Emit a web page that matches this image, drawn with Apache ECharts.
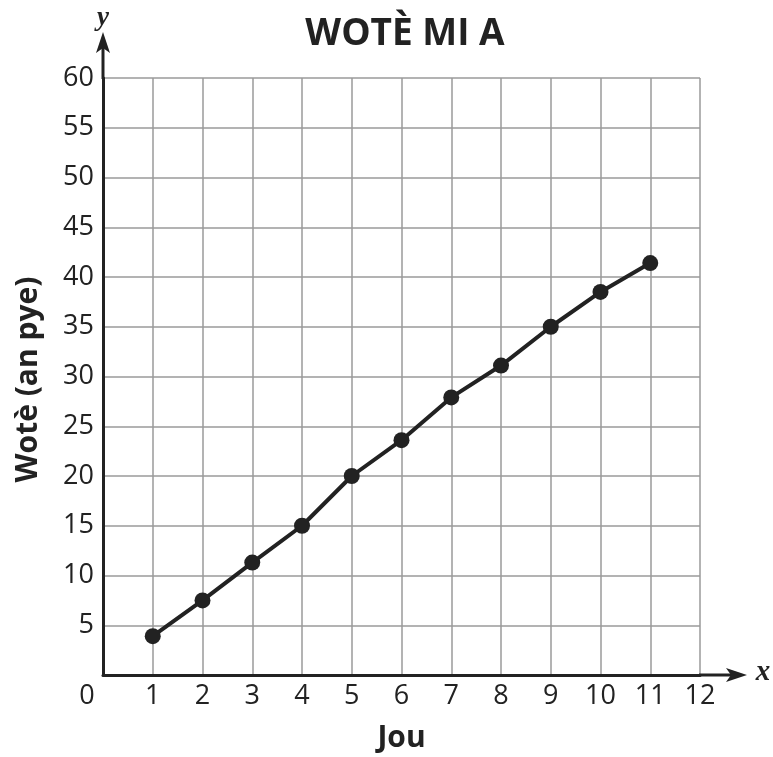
<!DOCTYPE html>
<html>
<head>
<meta charset="utf-8">
<script src="https://cdn.jsdelivr.net/npm/echarts@6/dist/echarts.min.js"></script>
<style>
html,body{margin:0;padding:0;background:#fff;}
#chart{width:773px;height:757px;}
</style>
</head>
<body>
<div id="chart"></div>
<script>
var titleText = 'WOTÈ MI A';
var xName = 'Jou';
var yName = 'Wotè (an pye)';
var days = [1, 2, 3, 4, 5, 6, 7, 8, 9, 10, 11];
var heights = [3.9, 7.5, 11.3, 15, 20, 23.6, 27.9, 31.1, 35, 38.5, 41.4];
var xMax = 12, yMax = 60, yStep = 5;

var FONT = '"Open Sans", "Noto Sans", sans-serif';
var INK = '#222';

var chart = echarts.init(document.getElementById('chart'));
chart.setOption({
  animation: false,
  backgroundColor: '#fff',
  title: {
    text: titleText,
    left: 400,
    top: 11,
    textAlign: 'center',
    textStyle: { fontFamily: FONT, fontWeight: 'bold', fontSize: 37, color: INK }
  },
  grid: { left: 103, right: 73, top: 78, bottom: 82, containLabel: false, outerBoundsMode: 'none' },
  xAxis: {
    type: 'value',
    min: 0, max: xMax, interval: 1,
    axisLine: { show: true, lineStyle: { color: INK, width: 3 } },
    axisTick: { show: false },
    axisLabel: {
      fontFamily: FONT, fontSize: 27, color: INK, margin: 8,
      formatter: function (v) { return v === 0 ? '' : String(v); }
    },
    splitLine: { show: true, lineStyle: { color: '#9a9a9a', width: 1.5 } }
  },
  yAxis: {
    type: 'value',
    min: 0, max: yMax, interval: yStep,
    axisLine: { show: true, lineStyle: { color: INK, width: 3 } },
    axisTick: { show: false },
    axisLabel: {
      fontFamily: FONT, fontSize: 27, color: INK, margin: 9,
      formatter: function (v) { return v === 0 ? '' : String(v); }
    },
    splitLine: { show: true, lineStyle: { color: '#9a9a9a', width: 1.5 } }
  },
  series: [{
    type: 'line',
    data: days.map(function (d, i) { return [d, heights[i]]; }),
    symbol: 'circle',
    symbolSize: 16,
    lineStyle: { color: INK, width: 4 },
    itemStyle: { color: INK },
    z: 5
  }]
});

var o = chart.convertToPixel({ gridIndex: 0 }, [0, 0]);
var t = chart.convertToPixel({ gridIndex: 0 }, [0, yMax]);
var r = chart.convertToPixel({ gridIndex: 0 }, [xMax, 0]);
var yTip = t[1] - 46, xTip = r[0] + 47;
var midX = (o[0] + r[0]) / 2, midY = (o[1] + t[1]) / 2;
chart.setOption({
  graphic: [
    { type: 'line', shape: { x1: o[0], y1: t[1] + 1, x2: o[0], y2: yTip + 8 }, style: { stroke: INK, lineWidth: 3 }, z: 10 },
    { type: 'polygon', shape: { points: [[o[0], yTip], [o[0] - 7, yTip + 21], [o[0], yTip + 16], [o[0] + 7, yTip + 21]] }, style: { fill: INK }, z: 10 },
    { type: 'line', shape: { x1: r[0] - 1, y1: o[1], x2: xTip - 8, y2: o[1] }, style: { stroke: INK, lineWidth: 3 }, z: 10 },
    { type: 'polygon', shape: { points: [[xTip, o[1]], [xTip - 21, o[1] - 7], [xTip - 16, o[1]], [xTip - 21, o[1] + 7]] }, style: { fill: INK }, z: 10 },
    { type: 'text', style: { text: 'y', x: o[0], y: yTip - 14, textAlign: 'center', textVerticalAlign: 'middle', font: 'italic bold 27px "Liberation Serif", serif', fill: INK }, z: 10 },
    { type: 'text', style: { text: 'x', x: xTip + 16, y: o[1] - 2, textAlign: 'center', textVerticalAlign: 'middle', font: 'italic bold 29px "Liberation Serif", serif', fill: INK }, z: 10 },
    { type: 'text', style: { text: '0', x: o[0] - 16, y: o[1] + 21, textAlign: 'center', textVerticalAlign: 'middle', font: '27px "Open Sans", "Noto Sans", sans-serif', fill: INK }, z: 10 },
    { type: 'text', x: midX, y: o[1] + 63, style: { text: xName, textAlign: 'center', textVerticalAlign: 'middle', font: 'bold 30px "Open Sans", "Noto Sans", sans-serif', fill: INK }, z: 10 },
    { type: 'text', x: o[0] - 75, y: midY + 3, rotation: Math.PI / 2, style: { text: yName, textAlign: 'center', textVerticalAlign: 'middle', font: 'bold 30px "Open Sans", "Noto Sans", sans-serif', fill: INK }, z: 10 }
  ]
});
</script>
</body>
</html>
